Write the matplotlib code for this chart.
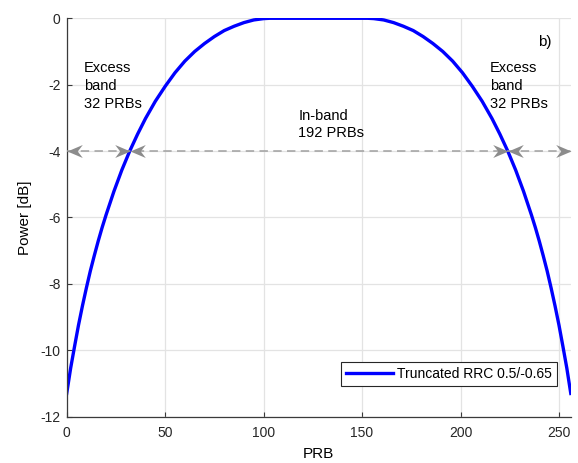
import numpy as np
import matplotlib
matplotlib.use("Agg")
import matplotlib.pyplot as plt
from matplotlib.path import Path

plt.rcParams['font.family'] = ['Liberation Sans', 'DejaVu Sans']
plt.rcParams['axes.unicode_minus'] = False

# curve values
prb = [0, 2, 4, 6, 8, 10, 12, 14, 16, 18, 20, 24, 28, 32, 36, 40, 45, 50, 55, 60, 65, 70, 75, 80,
       85, 90, 95, 100, 103,
       128,
       153, 156, 161, 166, 171, 176, 181, 186, 191, 196, 201, 206, 211, 216, 220, 224, 228, 232,
       236, 238, 240, 242, 244, 246, 248, 250, 252, 254, 256]
power_db = [-11.30, -10.54, -9.88, -9.24, -8.66, -8.12, -7.61, -7.15, -6.71, -6.30, -5.92, -5.21,
            -4.57, -4.00, -3.49, -3.02, -2.50, -2.05, -1.64, -1.29, -1.00, -0.76, -0.55, -0.37,
            -0.24, -0.13, -0.05, -0.01, 0.0,
            0.0,
            0.0, -0.01, -0.05, -0.13, -0.24, -0.37, -0.55, -0.76, -1.00, -1.29, -1.64, -2.05,
            -2.50, -3.02, -3.49, -4.00, -4.57, -5.21, -5.92, -6.30, -6.71, -7.15, -7.61, -8.12,
            -8.66, -9.24, -9.88, -10.54, -11.30]

band_edges = [0, 32, 224, 256]
marker_level = -4
x_ticks = [0, 50, 100, 150, 200, 250]
y_ticks = [0, -2, -4, -6, -8, -10, -12]

fig = plt.figure(figsize=(5.78, 4.63), dpi=100)
ax = fig.add_axes([0.1154, 0.1000, 0.8721, 0.8605])

ax.grid(True, color='#e3e3e3', lw=0.9)
ax.set_axisbelow(True)

ax.plot(prb, power_db, color='#0000ff', lw=2.4, label='Truncated RRC 0.5/-0.65')

# dashed band markers with notched arrow heads
ax.plot([band_edges[0], band_edges[-1]], [marker_level, marker_level], ls=(0, (5.5, 3.5)),
        color='#a0a0a0', lw=1.1, zorder=3, clip_on=False)
head_left = Path([(0, 0), (2, 0.85), (1.35, 0), (2, -0.85), (0, 0)],
                 [Path.MOVETO, Path.LINETO, Path.LINETO, Path.LINETO, Path.CLOSEPOLY])
head_right = Path([(0, 0), (-2, 0.85), (-1.35, 0), (-2, -0.85), (0, 0)],
                  [Path.MOVETO, Path.LINETO, Path.LINETO, Path.LINETO, Path.CLOSEPOLY])
ax.plot(band_edges[:-1], [marker_level] * 3, ls='none', marker=head_left, ms=22,
        color='#8c8c8c', mec='none', zorder=4, clip_on=False)
ax.plot(band_edges[1:], [marker_level] * 3, ls='none', marker=head_right, ms=22,
        color='#8c8c8c', mec='none', zorder=4, clip_on=False)

ax.text(8.8, -1.30, 'Excess\nband\n32 PRBs', fontsize=10.5, va='top', ha='left', linespacing=1.35)
ax.text(215, -1.30, 'Excess\nband\n32 PRBs', fontsize=10.5, va='top', ha='left', linespacing=1.35)
ax.text(117.6, -2.72, 'In-band\n192 PRBs', fontsize=10.5, va='top', ha='left', linespacing=1.35)
ax.text(239.4, -0.50, 'b)', fontsize=11, va='top', ha='left')

ax.set_xlim(0, 256)
ax.set_ylim(-12, 0)
ax.set_xticks(x_ticks)
ax.set_yticks(y_ticks)
ax.set_xlabel('PRB', fontsize=11, labelpad=5)
ax.set_ylabel('Power [dB]', fontsize=11, labelpad=6)

for s in ['top', 'right']:
    ax.spines[s].set_visible(False)
for s in ['left', 'bottom']:
    ax.spines[s].set_color('#3a3a3a')
    ax.spines[s].set_linewidth(0.9)
ax.tick_params(direction='in', length=3.5, width=0.8, color='#3a3a3a', labelsize=10,
               labelcolor='#262626')
ax.tick_params(axis='x', pad=7)
ax.tick_params(axis='y', pad=4.5)

leg = ax.legend(loc='lower right', bbox_to_anchor=(0.972, 0.077), fontsize=10, fancybox=False,
                framealpha=1, edgecolor='#262626', handlelength=3.4, borderpad=0.35,
                handletextpad=0.3, borderaxespad=0)
leg.get_frame().set_linewidth(0.8)

fig.savefig('out.png', dpi=100)
